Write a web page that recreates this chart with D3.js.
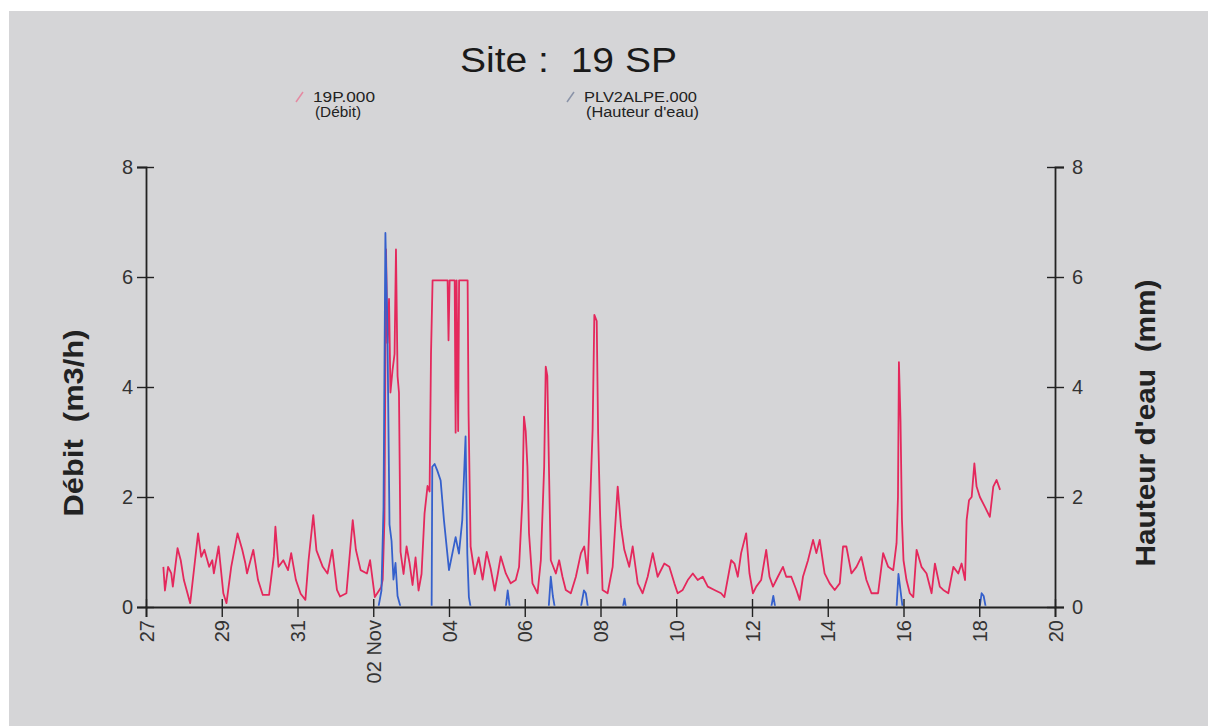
<!DOCTYPE html>
<html>
<head>
<meta charset="utf-8">
<script src="https://cdn.jsdelivr.net/npm/d3@7"></script>
<style>
  body { margin: 0; background: #ffffff; }
  text { font-family: "Liberation Sans", Arial, sans-serif; }
</style>
</head>
<body>
<div id="chart"></div>
<script>
"use strict";

// hours counted from 27 Oct 00:00
var debitHours = [11, 12, 14, 16, 17, 20, 22, 24, 28, 33, 35, 37, 40, 42, 43, 46, 49, 51, 54, 58,
  61, 63, 64, 68, 71, 74, 78, 81, 82, 84, 87, 90, 92, 95, 98, 101, 103, 106, 108, 112,
  115, 118, 121, 123, 127, 131, 133, 136, 140, 142, 145, 149, 150, 151.1, 152.1, 153, 154, 154.9, 156.2, 157.5,
  158.4, 159.4, 160.3, 161.3, 163.2, 165.1, 167, 168.9, 170.8, 172.7, 174.6, 176.5, 178.4, 179.7, 180.6, 181.6, 191.1, 191.7, 192.4, 195.6,
  196.2, 196.8, 197.8, 198.4, 203.8, 204.4, 205.7, 208.3, 210.8, 213.3, 215.9, 218.4, 221, 222.9, 224.8, 228, 231.1, 234.3, 236.4, 238.5,
  239.5, 240.6, 241.7, 242.7, 244.9, 248.1, 250.2, 252.3, 253.3, 254.3, 255.4, 256.5, 259.7, 261.8, 263.9, 266, 269.2, 272.4, 275.6, 277.7,
  279.8, 281.5, 283, 284.1, 285.6, 286.5, 287.8, 289.3, 292.5, 295.7, 298.9, 301, 303.1, 306.2, 308.4, 311.6, 314.7, 317.9, 321.1, 324.2,
  328.4, 331.6, 334.8, 336.9, 340.1, 343.3, 346.5, 349.6, 352.8, 356, 360.2, 364.4, 366.5, 370.8, 372.9, 375, 377.1, 380.3, 382.4, 384.6,
  386.7, 389.8, 393, 395.1, 397.3, 400.4, 403.6, 405.7, 408.9, 412.1, 414.2, 416.3, 419.5, 422.7, 424.8, 426.9, 430, 433.2, 436.4, 439.6,
  441.7, 443.8, 447, 450.2, 453.3, 456.5, 459.7, 463.9, 467.1, 470.3, 473.5, 475.6, 476.5, 477.1, 478.1, 479, 480, 481.9, 484, 486.2,
  488.3, 491.4, 494.6, 497.8, 499.9, 503, 505.2, 508.4, 511.6, 514.7, 516.8, 519, 520, 521.5, 523.2, 524.9, 526.3, 528.4, 531.6, 534.7,
  536.9, 539, 541.2];
var debitValues = [0.73, 0.30, 0.73, 0.61, 0.37, 1.07, 0.85, 0.49, 0.07, 1.34, 0.91, 1.04, 0.73, 0.85, 0.61, 1.10, 0.25, 0.07, 0.73, 1.34,
  1.04, 0.79, 0.61, 1.04, 0.49, 0.22, 0.22, 0.92, 1.46, 0.73, 0.85, 0.67, 0.98, 0.49, 0.24, 0.13, 0.85, 1.67, 1.03, 0.73,
  0.61, 1.04, 0.31, 0.19, 0.25, 1.58, 1.04, 0.67, 0.61, 0.85, 0.18, 0.36, 0.5, 1.6, 6.5, 4.8, 5.6, 3.9, 4.3, 4.6,
  6.5, 4.2, 3.9, 1.0, 0.6, 1.1, 0.8, 0.4, 0.9, 0.3, 0.6, 1.7, 2.2, 2.1, 4.6, 5.94, 5.94, 4.85, 5.94, 5.94,
  3.17, 5.94, 3.2, 5.94, 5.94, 3.5, 1.1, 0.6, 0.9, 0.5, 1.0, 0.7, 0.3, 0.6, 0.92, 0.61, 0.43, 0.49, 0.73, 1.95,
  3.46, 3.2, 2.55, 1.34, 0.43, 0.25, 0.85, 2.55, 4.37, 4.2, 2.43, 0.85, 0.61, 0.85, 0.55, 0.31, 0.25, 0.55, 0.98, 1.1,
  0.61, 1.95, 3.22, 5.31, 5.2, 3.16, 1.64, 0.31, 0.25, 0.73, 2.19, 1.46, 1.04, 0.73, 1.1, 0.43, 0.25, 0.55, 0.98, 0.55,
  0.79, 0.73, 0.43, 0.25, 0.31, 0.49, 0.61, 0.49, 0.55, 0.37, 0.31, 0.25, 0.18, 0.85, 0.79, 0.55, 0.98, 1.34, 0.61, 0.25,
  0.37, 0.49, 1.04, 0.55, 0.37, 0.55, 0.73, 0.55, 0.55, 0.31, 0.13, 0.55, 0.85, 1.22, 0.98, 1.22, 0.61, 0.43, 0.31, 0.43,
  1.1, 1.1, 0.61, 0.73, 0.91, 0.49, 0.25, 0.25, 0.98, 0.73, 0.67, 1.16, 2.0, 4.45, 3.4, 1.6, 0.85, 0.49, 0.25, 0.18,
  1.04, 0.73, 0.61, 0.25, 0.79, 0.37, 0.31, 0.25, 0.73, 0.61, 0.79, 0.49, 1.58, 1.94, 2.0, 2.61, 2.19, 2.0, 1.82, 1.64,
  2.19, 2.31, 2.13];

var hauteurHours = [11, 147.3, 149.2, 150.5, 151.7, 153, 154.3, 155.6, 156.8, 158.1, 159.4, 161.3, 181, 181.4, 182.9, 184.6, 186.7, 188.8, 192, 194.1,
  196.2, 198.3, 200.4, 202.5, 203.6, 204.6, 205.7, 228, 229.2, 230.5, 255.2, 256.5, 257.8, 259, 275.6, 277.5, 278.7, 280, 302.2, 303.2,
  304.1, 396.2, 397.5, 398.7, 475.6, 476.8, 478.1, 479.4, 528.3, 529.5, 530.8, 532.1, 541.2];
var hauteurValues = [0, 0, 0.3, 1.8, 6.8, 5.0, 1.5, 1.2, 0.5, 0.8, 0.2, 0, 0, 2.55, 2.6, 2.48, 2.3, 1.58, 0.67, 0.97,
  1.27, 0.97, 1.58, 3.1, 0.97, 0.18, 0, 0, 0.3, 0, 0, 0.55, 0.2, 0, 0, 0.3, 0.25, 0, 0, 0.15,
  0, 0, 0.2, 0, 0, 0.6, 0.3, 0, 0, 0.25, 0.2, 0, 0];

var xTickDays = [0, 2, 4, 6, 8, 10, 12, 14, 16, 18, 20, 22, 24];
var xTickLabels = ["27", "29", "31", "02 Nov", "04", "06", "08", "10", "12", "14", "16", "18", "20"];
var yTicks = [0, 2, 4, 6, 8];

var startDate = new Date(2008, 9, 27);
var redColor = "#e4285c", blueColor = "#3560cc";

var margin = { top: 167, right: 153, bottom: 119, left: 146 },
    width = 1208, height = 726,
    w = width - margin.left - margin.right,
    h = height - margin.top - margin.bottom;

var x = d3.scaleTime()
          .domain([startDate, d3.timeDay.offset(startDate, 24)])
          .range([0, w]);
var yLeft = d3.scaleLinear().domain([0, 8]).range([h, 0]);
var yRight = d3.scaleLinear().domain([0, 8]).range([h, 0]);

function toPoints(hours, values) {
  return hours.map((hr, i) => ({ t: d3.timeMinute.offset(startDate, Math.round(hr * 60)), v: values[i] }));
}
var debit = toPoints(debitHours, debitValues);
var hauteur = toPoints(hauteurHours, hauteurValues);

var svg = d3.select("#chart").append("svg")
            .attr("width", width)
            .attr("height", height);

// scanned grey sheet
svg.append("rect")
   .attr("x", 9).attr("y", 11)
   .attr("width", width - 9).attr("height", height - 11)
   .attr("fill", "#d5d5d7");

// the water height lies on the x axis when zero, keep it from painting the axis blue
svg.append("clipPath").attr("id", "above-axis")
   .append("rect")
   .attr("x", -5).attr("y", -20)
   .attr("width", w + 10).attr("height", h + 20 - 1.2);

// title + legend
svg.append("text")
   .attr("x", 460).attr("y", 72)
   .attr("textLength", 217)
   .attr("lengthAdjust", "spacingAndGlyphs")
   .style("white-space", "pre")
   .style("font-size", "35px")
   .style("fill", "#1a1a1a")
   .text("Site :  19 SP");

var legend = svg.append("g").attr("id", "legend-group");
var legendItems = [
  { x: 313, name: "19P.000", sub: "(Débit)", color: "#e58aa2", w1: 62, w2: 46 },
  { x: 584, name: "PLV2ALPE.000", sub: "(Hauteur d'eau)", color: "#8a93a8", w1: 113, w2: 113 }
];
legendItems.forEach(function(d) {
  legend.append("line")
        .attr("x1", d.x - 17).attr("y1", 102)
        .attr("x2", d.x - 10).attr("y2", 92)
        .attr("stroke", d.color).attr("stroke-width", 1.5);
  legend.append("text").attr("x", d.x).attr("y", 102)
        .attr("textLength", d.w1).attr("lengthAdjust", "spacingAndGlyphs")
        .style("font-size", "14px").style("fill", "#222").text(d.name);
  legend.append("text").attr("x", d.x + 2).attr("y", 117)
        .attr("textLength", d.w2).attr("lengthAdjust", "spacingAndGlyphs")
        .style("font-size", "14px").style("fill", "#222").text(d.sub);
});

var g = svg.append("g")
           .attr("transform", "translate(" + margin.left + "," + margin.top + ")");

// lines
var lineLeft = d3.line().x(d => x(d.t)).y(d => yLeft(d.v));
var lineRight = d3.line().x(d => x(d.t)).y(d => yRight(d.v));

g.append("path").datum(debit)
 .attr("d", lineLeft)
 .style("fill", "none")
 .attr("stroke", redColor)
 .attr("stroke-width", 1.8)
 .attr("stroke-linejoin", "round");

g.append("path").datum(hauteur)
 .attr("d", lineRight)
 .attr("clip-path", "url(#above-axis)")
 .style("fill", "none")
 .attr("stroke", blueColor)
 .attr("stroke-width", 1.8)
 .attr("stroke-linejoin", "round");

// axes, ticks cross the axis line
var xAxis = d3.axisBottom(x)
  .tickValues(xTickDays.map(d => d3.timeDay.offset(startDate, d)))
  .tickFormat((d, i) => xTickLabels[i])
  .tickSize(10);
var yAxisL = d3.axisLeft(yLeft).tickValues(yTicks).tickSize(9).tickFormat(d3.format("d"));
var yAxisR = d3.axisRight(yRight).tickValues(yTicks).tickSize(9).tickFormat(d3.format("d"));

var gx = g.append("g").attr("transform", "translate(0," + h + ")").call(xAxis);
gx.selectAll(".tick line").attr("y1", -8);
gx.selectAll(".tick text")
  .attr("transform", "translate(0,13) rotate(-90)")
  .attr("text-anchor", "end")
  .attr("x", 0).attr("y", 0).attr("dy", "0.35em");

var gl = g.append("g").call(yAxisL);
gl.selectAll(".tick line").attr("x1", 8);
gl.selectAll(".tick text").attr("x", -13);

var gr = g.append("g").attr("transform", "translate(" + w + ",0)").call(yAxisR);
gr.selectAll(".tick line").attr("x1", -8);
gr.selectAll(".tick text").attr("x", 17);

[gx, gl, gr].forEach(function(a) {
  a.select(".domain").attr("stroke", "#222").attr("stroke-width", 1.8);
  a.selectAll(".tick line").attr("stroke", "#222").attr("stroke-width", 1.4);
  a.selectAll(".tick text")
   .style("font-size", "20px")
   .style("font-family", "'Liberation Sans', Arial, sans-serif")
   .style("fill", "#333");
});

// axis titles
svg.append("text")
   .attr("transform", "translate(83,423) rotate(-90)")
   .attr("text-anchor", "middle")
   .attr("textLength", 187)
   .attr("lengthAdjust", "spacingAndGlyphs")
   .style("white-space", "pre")
   .style("font-size", "28px")
   .style("font-weight", "bold")
   .style("fill", "#222")
   .text("Débit  (m3/h)");

svg.append("text")
   .attr("transform", "translate(1155,423) rotate(-90)")
   .attr("text-anchor", "middle")
   .attr("textLength", 287)
   .attr("lengthAdjust", "spacingAndGlyphs")
   .style("white-space", "pre")
   .style("font-size", "28px")
   .style("font-weight", "bold")
   .style("fill", "#222")
   .text("Hauteur d'eau  (mm)");
</script>
</body>
</html>
